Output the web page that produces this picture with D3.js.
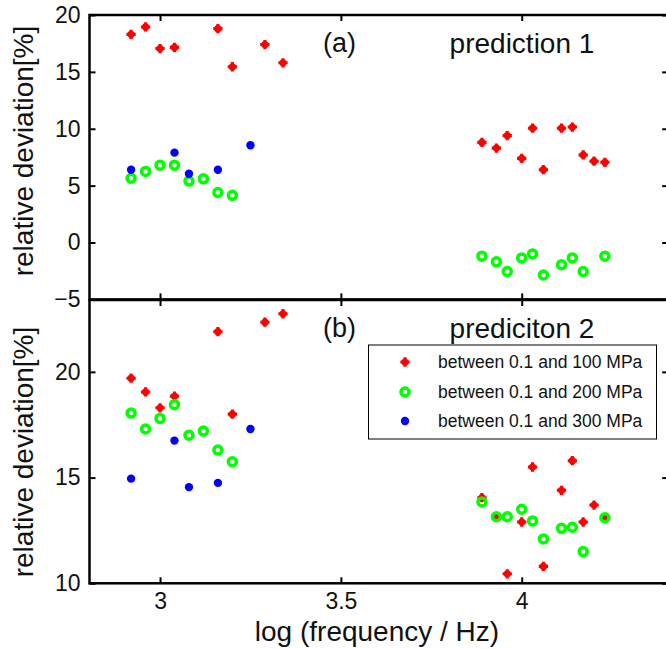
<!DOCTYPE html>
<html>
<head>
<meta charset="utf-8">
<script src="https://cdn.jsdelivr.net/npm/d3@7"></script>
<style>
  body { margin: 0; background: #fff; }
  svg { display: block; font-family: "Liberation Sans", Arial, sans-serif; }
</style>
</head>
<body>
<div id="chart"></div>
<script>
var width = 666,
  height = 649;

var fontFam = "Liberation Sans, Arial, sans-serif";

// prediction 1  [log10 f, deviation %]
var p1Red = [
  [2.92, 18.3], [2.96, 18.95], [3.00, 17.05], [3.04, 17.15], [3.16, 18.8],
  [3.20, 15.45], [3.29, 17.4], [3.34, 15.8],
  [3.89, 8.8], [3.93, 8.3], [3.96, 9.4], [4.00, 7.4], [4.03, 10.05], [4.06, 6.4],
  [4.11, 10.05], [4.14, 10.15], [4.17, 7.7], [4.20, 7.15], [4.23, 7.05]
];
var p1Green = [
  [2.92, 5.65], [2.96, 6.25], [3.00, 6.8], [3.04, 6.8], [3.08, 5.4],
  [3.12, 5.6], [3.16, 4.4], [3.20, 4.15],
  [3.89, -1.2], [3.93, -1.7], [3.96, -2.55], [4.00, -1.35], [4.03, -1.0],
  [4.06, -2.85], [4.11, -1.95], [4.14, -1.35], [4.17, -2.55], [4.23, -1.2]
];
var p1Blue = [
  [2.92, 6.4], [3.04, 7.9], [3.08, 6.05], [3.16, 6.4], [3.25, 8.55]
];

// prediction 2
var p2Red = [
  [2.92, 19.7], [2.96, 19.05], [3.00, 18.3], [3.04, 18.85], [3.16, 21.9],
  [3.20, 18.0], [3.29, 22.35], [3.34, 22.75],
  [3.89, 14.05], [3.93, 13.15], [3.96, 10.45], [4.00, 12.9], [4.03, 15.5],
  [4.06, 10.8], [4.11, 14.4], [4.14, 15.8], [4.17, 12.9], [4.20, 13.7], [4.23, 13.1]
];
var p2Green = [
  [2.92, 18.05], [2.96, 17.3], [3.00, 17.8], [3.04, 18.45], [3.08, 17.0],
  [3.12, 17.2], [3.16, 16.3], [3.20, 15.75],
  [3.89, 13.85], [3.93, 13.15], [3.96, 13.15], [4.00, 13.5], [4.03, 12.95],
  [4.06, 12.1], [4.11, 12.6], [4.14, 12.65], [4.17, 11.5], [4.23, 13.1]
];
var p2Blue = [
  [2.92, 14.95], [3.04, 16.75], [3.08, 14.55], [3.16, 14.75], [3.25, 17.3]
];

var xTicks = [3, 3.5, 4];
var y1Ticks = [-5, 0, 5, 10, 15, 20];
var y2Ticks = [10, 15, 20];
var legendLabels = ["between 0.1 and 100 MPa", "between 0.1 and 200 MPa", "between 0.1 and 300 MPa"];

var svg = d3.select("#chart")
  .append("svg")
  .attr("width", width)
  .attr("height", height);

var x = d3.scaleLinear()
  .domain([2.805, 4.405])
  .range([89.5, 668.2]);

var panels = [
  { y: d3.scaleLinear().domain([-5, 20]).range([299.4, 15]), ticks: y1Ticks, ymid: 151,
    red: p1Red, green: p1Green, blue: p1Blue, tag: "(a)", title: "prediction 1" },
  { y: d3.scaleLinear().domain([10, 23.4]).range([583.3, 300]), ticks: y2Ticks, ymid: 452,
    red: p2Red, green: p2Green, blue: p2Blue, tag: "(b)", title: "prediciton 2" }
];

var redMark = d3.symbol().type(d3.symbolCross).size(48);

function drawRed(s) {
  s.append("circle").attr("r", 3.6).attr("fill", "#ff0000");
  s.append("path").attr("d", redMark).attr("fill", "#ff0000");
}

function drawGreen(s) {
  return s.attr("r", 4)
    .attr("fill", "none")
    .attr("stroke", "#00ff00")
    .attr("stroke-width", 3.5);
}

panels.forEach(function (p, i) {
  var g = svg.append("g");
  var y = p.y;
  var top = y.range()[1], bot = y.range()[0];

  // markers: red, then green rings, then blue dots
  g.selectAll(".red")
    .data(p.red)
    .enter().append("g")
    .attr("transform", function (d) { return "translate(" + x(d[0]) + "," + y(d[1]) + ")"; })
    .each(function () { drawRed(d3.select(this)); });

  g.selectAll(".green")
    .data(p.green)
    .enter().append("circle")
    .attr("cx", function (d) { return x(d[0]); })
    .attr("cy", function (d) { return y(d[1]); })
    .call(drawGreen);

  g.selectAll(".blue")
    .data(p.blue)
    .enter().append("circle")
    .attr("cx", function (d) { return x(d[0]); })
    .attr("cy", function (d) { return y(d[1]); })
    .attr("r", 4.2)
    .attr("fill", "#0000ff");

  // axes, ticks on all four sides pointing inwards
  var yl = g.append("g")
    .attr("transform", "translate(" + x.range()[0] + ",0)")
    .call(d3.axisLeft(y).tickValues(p.ticks).tickSize(-6).tickPadding(9).tickFormat(d3.format("d")));
  var yr = g.append("g")
    .attr("transform", "translate(" + x.range()[1] + ",0)")
    .call(d3.axisRight(y).tickValues(p.ticks).tickSize(-6).tickFormat(""));
  var xt = g.append("g")
    .attr("transform", "translate(0," + top + ")")
    .call(d3.axisTop(x).tickValues(xTicks).tickSize(-6).tickFormat(""));
  var xb = g.append("g")
    .attr("transform", "translate(0," + bot + ")")
    .call(d3.axisBottom(x).tickValues(xTicks).tickSize(-6).tickPadding(9).tickFormat(i == 1 ? d3.format("") : ""));

  [yl, yr, xt, xb].forEach(function (a) {
    a.select(".domain").remove();
    a.selectAll("line").attr("stroke", "#000").attr("stroke-width", 2);
    a.selectAll("text").attr("fill", "#111").attr("font-size", 23).attr("font-family", fontFam);
  });

  g.append("rect")
    .attr("x", x.range()[0])
    .attr("y", top)
    .attr("width", x.range()[1] - x.range()[0])
    .attr("height", bot - top)
    .attr("fill", "none")
    .attr("stroke", "#000")
    .attr("stroke-width", 2.5);

  g.append("text")
    .attr("x", 323)
    .attr("y", top + 37)
    .attr("font-size", 27)
    .attr("font-family", fontFam)
    .attr("fill", "#111")
    .text(p.tag);

  g.append("text")
    .attr("x", 522)
    .attr("y", top + 38)
    .attr("text-anchor", "middle")
    .attr("font-size", 28)
    .attr("font-family", fontFam)
    .attr("fill", "#111")
    .text(p.title);

  g.append("text")
    .attr("transform", "translate(33," + p.ymid + ") rotate(-90)")
    .attr("text-anchor", "middle")
    .attr("font-size", 28)
    .attr("font-family", fontFam)
    .attr("fill", "#111")
    .text("relative deviation[%]");
});

// x label
svg.append("text")
  .attr("x", 377)
  .attr("y", 641)
  .attr("text-anchor", "middle")
  .attr("font-size", 28)
  .attr("font-family", fontFam)
  .attr("fill", "#111")
  .text("log (frequency / Hz)");

// legend
var leg = svg.append("g");
leg.append("rect")
  .attr("x", 368.5)
  .attr("y", 345)
  .attr("width", 288)
  .attr("height", 94)
  .attr("fill", "#fff")
  .attr("stroke", "#000")
  .attr("stroke-width", 1);

var rows = [362, 392, 421];
var legMarks = leg.selectAll(".lm")
  .data(legendLabels)
  .enter().append("g")
  .attr("transform", function (d, i) { return "translate(405," + rows[i] + ")"; });

legMarks.each(function (d, i) {
  var s = d3.select(this);
  if (i == 0) {
    drawRed(s);
  } else if (i == 1) {
    s.append("circle").call(drawGreen);
  } else {
    s.append("circle").attr("r", 4.2).attr("fill", "#0000ff");
  }
  s.append("text")
    .attr("x", 33)
    .attr("dy", "0.35em")
    .attr("font-size", 17.5)
    .attr("font-family", fontFam)
    .attr("fill", "#111")
    .text(d);
});
</script>
</body>
</html>
